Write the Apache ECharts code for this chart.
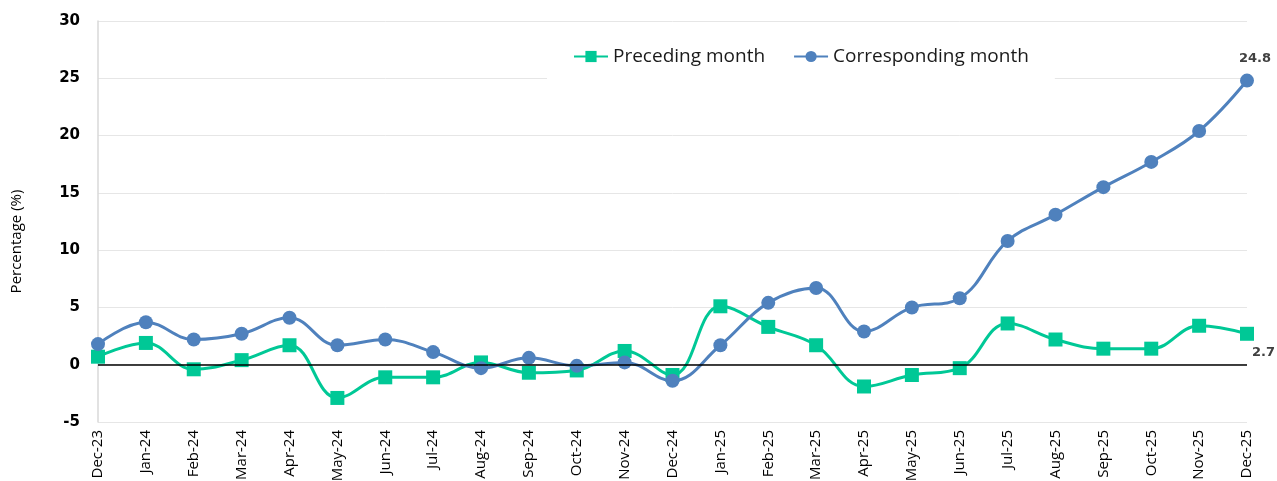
<!DOCTYPE html>
<html>
<head>
<meta charset="utf-8">
<script src="https://cdn.jsdelivr.net/npm/echarts@6/dist/echarts.min.js"></script>
<style>
html,body{margin:0;padding:0;background:#fff;}
#chart{width:1277px;height:481px;}
</style>
</head>
<body>
<div id="chart"></div>
<script>
const categories = ['Dec-23','Jan-24','Feb-24','Mar-24','Apr-24','May-24','Jun-24','Jul-24','Aug-24','Sep-24','Oct-24','Nov-24','Dec-24','Jan-25','Feb-25','Mar-25','Apr-25','May-25','Jun-25','Jul-25','Aug-25','Sep-25','Oct-25','Nov-25','Dec-25'];
const precedingMonth = [0.7, 1.9, -0.4, 0.4, 1.7, -2.9, -1.1, -1.1, 0.2, -0.7, -0.5, 1.2, -0.9, 5.1, 3.3, 1.7, -1.9, -0.9, -0.3, 3.6, 2.2, 1.4, 1.4, 3.4, 2.7];
const correspondingMonth = [1.8, 3.7, 2.2, 2.7, 4.1, 1.7, 2.2, 1.1, -0.3, 0.6, -0.1, 0.2, -1.4, 1.7, 5.4, 6.7, 2.9, 5.0, 5.8, 10.8, 13.1, 15.5, 17.7, 20.4, 24.8];
const seriesNames = ['Preceding month', 'Corresponding month'];
const yAxisName = 'Percentage (%)';

const chart = echarts.init(document.getElementById('chart'), null, {renderer: 'canvas'});
const lastIdx = categories.length - 1;

function withEndLabel(arr, labelCfg) {
  return arr.map((v, i) => i === lastIdx ? {value: v, label: labelCfg} : v);
}

const labelStyle = {show: true, color: '#404040', fontWeight: 'bold', fontSize: 13, fontFamily: 'DejaVu Sans', formatter: p => p.value.toFixed(1)};

chart.setOption({
  animation: false,
  backgroundColor: '#fff',
  grid: {left: 98, right: 30, top: 21, bottom: 59, containLabel: false, outerBoundsMode: 'none'},
  legend: {
    left: 547, top: 37,
    padding: [10, 26, 14, 26],
    backgroundColor: '#fff',
    itemWidth: 34, itemHeight: 14, itemGap: 28,
    textStyle: {fontSize: 19, color: '#1a1a1a', fontFamily: 'Open Sans'},
    data: seriesNames
  },
  xAxis: {
    type: 'category',
    data: categories,
    boundaryGap: false,
    axisLine: {show: false},
    axisTick: {show: false},
    axisLabel: {rotate: 90, margin: 8, color: '#000', fontSize: 15, fontFamily: 'Liberation Sans Narrow, Open Sans', interval: 0}
  },
  yAxis: {
    type: 'value',
    min: -5, max: 30, interval: 5,
    name: yAxisName,
    nameLocation: 'middle',
    nameGap: 74,
    nameTextStyle: {fontSize: 15, color: '#000', fontFamily: 'Liberation Sans Narrow, Open Sans', padding: [0, 40, 0, 0]},
    axisLine: {show: true, lineStyle: {color: '#d9d9d9', width: 1.5}},
    axisTick: {show: false},
    axisLabel: {margin: 18, color: '#000', fontSize: 15, fontWeight: 'bold', fontFamily: 'DejaVu Sans'},
    splitLine: {show: true, lineStyle: {color: '#e6e6e6', width: 1}}
  },
  series: [
    {
      name: seriesNames[0],
      type: 'line',
      smooth: 0.4,
      symbol: 'rect',
      symbolSize: 14,
      data: withEndLabel(precedingMonth, Object.assign({}, labelStyle, {position: 'right', distance: 0, offset: [-2, 19]})),
      lineStyle: {color: '#00C896', width: 3},
      itemStyle: {color: '#00C896'},
      z: 3,
      markLine: {
        silent: true,
        symbol: 'none',
        label: {show: false},
        lineStyle: {color: '#000', width: 1.5, type: 'solid'},
        data: [{yAxis: 0}]
      }
    },
    {
      name: seriesNames[1],
      type: 'line',
      smooth: 0.4,
      symbol: 'circle',
      symbolSize: 14,
      data: withEndLabel(correspondingMonth, Object.assign({}, labelStyle, {position: 'top', distance: 8, offset: [8, 0]})),
      lineStyle: {color: '#4F81BD', width: 3},
      itemStyle: {color: '#4F81BD'},
      z: 4
    }
  ]
});
</script>
</body>
</html>
